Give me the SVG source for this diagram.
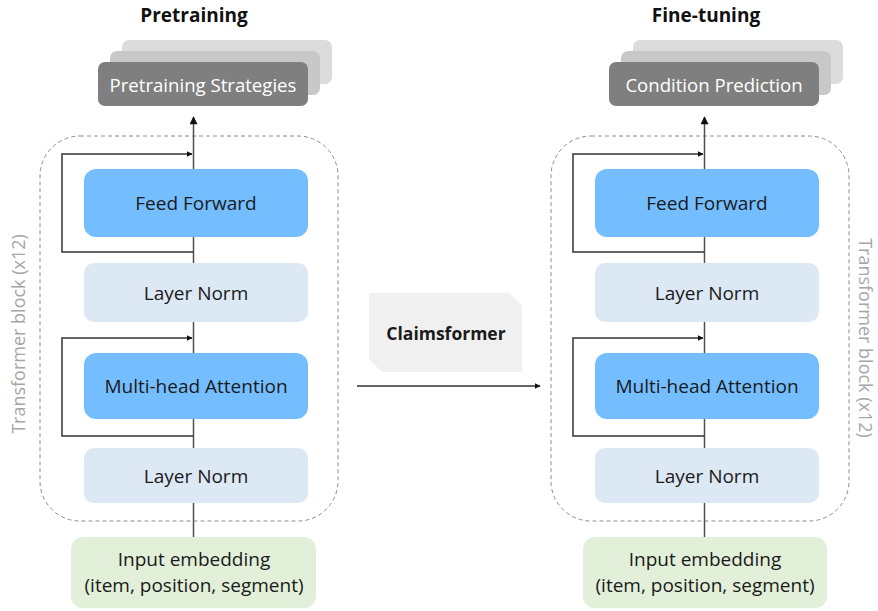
<svg xmlns="http://www.w3.org/2000/svg" width="878" height="611" viewBox="0 0 878 611">
  <style>
    text { font-family: "Open Sans", "Noto Sans", sans-serif; font-size: 19px; fill: #1a1a1a; text-anchor: middle; dominant-baseline: central; }
    .title { font-weight: bold; font-size: 19px; fill: #111; }
    .ff { fill: #74beff; }
    .ln { fill: #dde8f5; }
    .emb { fill: #e2efd9; }
    .stack1 { fill: #dcdcdc; }
    .stack2 { fill: #c8c8c8; }
    .stack3 { fill: #7f7f7f; }
    .white { fill: #ffffff; font-size: 18.6px; }
    .side { fill: #a6a6a6; font-size: 18px; }
    .block { fill: none; stroke: #8c8c8c; stroke-width: 1; stroke-dasharray: 4 3; }
    .wire { fill: none; stroke: #333; stroke-width: 1.5; }
    .spine { fill: none; stroke: #505050; stroke-width: 1.5; }
    .bold { font-weight: bold; font-size: 17.5px; }
  </style>
  <defs>
    <marker id="arrow" viewBox="0 0 10 10" refX="9" refY="5" markerWidth="6" markerHeight="6" orient="auto" markerUnits="userSpaceOnUse">
      <path d="M0,0 L10,5 L0,10 z" fill="#111"/>
    </marker>
    <marker id="arrowL" viewBox="0 0 10 10" refX="9" refY="5" markerWidth="9" markerHeight="8" orient="auto" markerUnits="userSpaceOnUse">
      <path d="M0,0 L10,5 L0,10 z" fill="#111"/>
    </marker>
  </defs>

  <!-- Pretraining column -->
  <text class="title" x="194" y="15">Pretraining</text>
  <rect class="block" x="40" y="136" width="298" height="385" rx="40"/>
  <text class="side" transform="translate(18 334) rotate(-90)">Transformer block (x12)</text>

  <g id="connectors-left">
    <line class="spine" x1="193.5" y1="537" x2="193.5" y2="117" marker-end="url(#arrowL)"/>
    <path class="wire" d="M193.5,252 H62 V154 H192" marker-end="url(#arrow)"/>
    <path class="wire" d="M193.5,436 H62 V338 H192" marker-end="url(#arrow)"/>
  </g>

  <g id="pretraining-strategies">
    <rect class="stack1" x="122" y="40" width="210" height="44" rx="7"/>
    <rect class="stack2" x="110" y="51" width="210" height="44" rx="7"/>
    <rect class="stack3" x="98" y="62" width="210" height="44" rx="7"/>
    <text class="white" x="203" y="84">Pretraining Strategies</text>
  </g>
  <g id="ff-left">
    <rect class="ff" x="84" y="169" width="224" height="68" rx="12"/>
    <text x="196" y="203">Feed Forward</text>
  </g>
  <g id="ln1-left">
    <rect class="ln" x="84" y="263" width="224" height="59" rx="10"/>
    <text x="196" y="293">Layer Norm</text>
  </g>
  <g id="mha-left">
    <rect class="ff" x="84" y="353" width="224" height="66" rx="12"/>
    <text x="196" y="386">Multi-head Attention</text>
  </g>
  <g id="ln2-left">
    <rect class="ln" x="84" y="448" width="224" height="55" rx="10"/>
    <text x="196" y="476">Layer Norm</text>
  </g>
  <g id="emb-left">
    <rect class="emb" x="71" y="537" width="245" height="71" rx="12"/>
    <text x="194" y="559">Input embedding</text>
    <text x="194" y="585">(item, position, segment)</text>
  </g>

  <!-- Claimsformer -->
  <g id="claimsformer">
    <path d="M369,293 H509 L522,306 V372 H382 L369,359 Z" fill="#f0f0f0"/>
    <text class="bold" x="446" y="333">Claimsformer</text>
  </g>
  <g id="connector-middle">
    <line class="wire" x1="357" y1="386" x2="540" y2="386" marker-end="url(#arrow)"/>
  </g>

  <!-- Fine-tuning column -->
  <text class="title" x="706" y="15">Fine-tuning</text>
  <rect class="block" x="551" y="136" width="298" height="385" rx="40"/>
  <text class="side" transform="translate(866 338) rotate(90)">Transformer block (x12)</text>

  <g id="connectors-right">
    <line class="spine" x1="704.5" y1="537" x2="704.5" y2="117" marker-end="url(#arrowL)"/>
    <path class="wire" d="M704.5,252 H573 V154 H703" marker-end="url(#arrow)"/>
    <path class="wire" d="M704.5,436 H573 V338 H703" marker-end="url(#arrow)"/>
  </g>

  <g id="condition-prediction">
    <rect class="stack1" x="633" y="40" width="210" height="44" rx="7"/>
    <rect class="stack2" x="621" y="51" width="210" height="44" rx="7"/>
    <rect class="stack3" x="609" y="62" width="210" height="44" rx="7"/>
    <text class="white" x="714" y="84">Condition Prediction</text>
  </g>
  <g id="ff-right">
    <rect class="ff" x="595" y="169" width="224" height="68" rx="12"/>
    <text x="707" y="203">Feed Forward</text>
  </g>
  <g id="ln1-right">
    <rect class="ln" x="595" y="263" width="224" height="59" rx="10"/>
    <text x="707" y="293">Layer Norm</text>
  </g>
  <g id="mha-right">
    <rect class="ff" x="595" y="353" width="224" height="66" rx="12"/>
    <text x="707" y="386">Multi-head Attention</text>
  </g>
  <g id="ln2-right">
    <rect class="ln" x="595" y="448" width="224" height="55" rx="10"/>
    <text x="707" y="476">Layer Norm</text>
  </g>
  <g id="emb-right">
    <rect class="emb" x="583" y="537" width="244" height="71" rx="12"/>
    <text x="705" y="559">Input embedding</text>
    <text x="705" y="585">(item, position, segment)</text>
  </g>
</svg>
